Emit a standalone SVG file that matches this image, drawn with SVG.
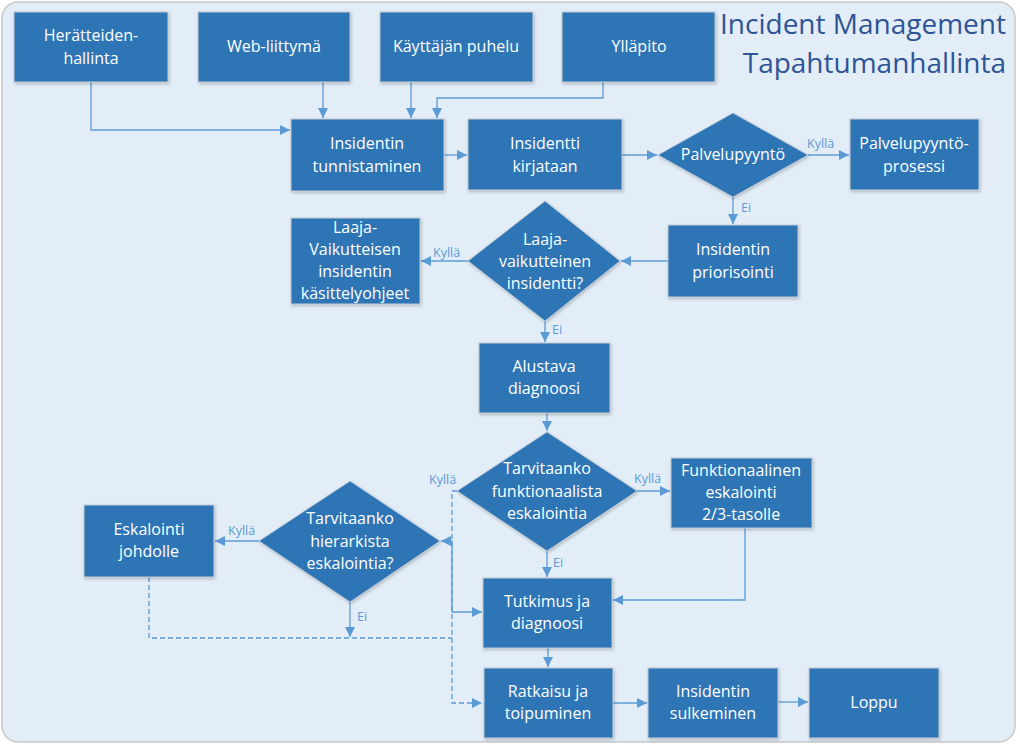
<svg xmlns="http://www.w3.org/2000/svg" width="1020" height="745" viewBox="0 0 1020 745">
<style>
.box{fill:#2e75b6;stroke:#c3cad3;stroke-width:1;filter:url(#sh)}
.dia{fill:#2e75b6;stroke:#c3cad3;stroke-width:0.8;filter:url(#sh)}
.t{font-family:"Open Sans","Liberation Sans",sans-serif;font-size:16px;fill:#ffffff;text-anchor:middle}
.lbl{font-family:"Open Sans","Liberation Sans",sans-serif;font-size:12.5px;fill:#5b9bd5}
.title{font-family:"Open Sans","Liberation Sans",sans-serif;font-size:28px;fill:#2f5496;text-anchor:end}
.c{fill:none;stroke:#5b9bd5;stroke-width:1.3}
.d{stroke-dasharray:5,3}
</style>
<defs>
<marker id="ar" markerUnits="userSpaceOnUse" markerWidth="11" markerHeight="10" refX="10" refY="5" orient="auto-start-reverse" viewBox="0 0 11 10">
<path d="M0,0 L10,5 L0,10 z" fill="#5b9bd5"/>
</marker>
<filter id="sh" x="-10%" y="-10%" width="130%" height="130%">
<feDropShadow dx="1" dy="1.5" stdDeviation="1.5" flood-color="#000" flood-opacity="0.22"/>
</filter>
</defs>
<rect x="2" y="2" width="1013" height="740" rx="16" fill="#e2edf7" stroke="#c8c8c8" stroke-width="1.5"/>
<text class="title" x="1006" y="34">Incident Management</text>
<text class="title" x="1006" y="73">Tapahtumanhallinta</text>

<g id="connectors">
<path class="c" d="M91,82 V130 H290" marker-end="url(#ar)"/>
<path class="c" d="M323,82 V118" marker-end="url(#ar)"/>
<path class="c" d="M411,82 V118" marker-end="url(#ar)"/>
<path class="c" d="M603,82 V98 H437 V118" marker-end="url(#ar)"/>
<path class="c" d="M444,155 H467" marker-end="url(#ar)"/>
<path class="c" d="M622,155 H657" marker-end="url(#ar)"/>
<path class="c" d="M808,155 H849" marker-end="url(#ar)"/>
<path class="c" d="M733,197 V224" marker-end="url(#ar)"/>
<path class="c" d="M668,261 H621" marker-end="url(#ar)"/>
<path class="c" d="M468,261 H421" marker-end="url(#ar)"/>
<path class="c" d="M545,321 V342" marker-end="url(#ar)"/>
<path class="c" d="M547,413 V431" marker-end="url(#ar)"/>
<path class="c" d="M637,491 H670" marker-end="url(#ar)"/>
<path class="c" d="M547,551 V577" marker-end="url(#ar)"/>
<path class="c" d="M745,528 V600 H613" marker-end="url(#ar)"/>
<path class="c d" d="M457,491 H452 V703 H482" marker-end="url(#ar)"/>
<path class="c" d="M441,541 H452 V612 H482" marker-start="url(#ar)" marker-end="url(#ar)"/>
<path class="c d" d="M149,577 V638 H452"/>
<path class="c" d="M350,602 V637" marker-end="url(#ar)"/>
<path class="c" d="M259,541 H215" marker-end="url(#ar)"/>
<path class="c" d="M548,648 V667" marker-end="url(#ar)"/>
<path class="c" d="M613,703 H647" marker-end="url(#ar)"/>
<path class="c" d="M778,702 H808" marker-end="url(#ar)"/>
<text class="lbl" x="807" y="148">Kyllä</text>
<text class="lbl" x="741" y="212">Ei</text>
<text class="lbl" x="433" y="257">Kyllä</text>
<text class="lbl" x="552" y="334">Ei</text>
<text class="lbl" x="634" y="483">Kyllä</text>
<text class="lbl" x="429" y="484">Kyllä</text>
<text class="lbl" x="553" y="567">Ei</text>
<text class="lbl" x="228" y="535">Kyllä</text>
<text class="lbl" x="357" y="621">Ei</text>
</g>

<g id="n-herate"><rect class="box" x="14" y="12" width="154" height="70"/><text class="t" x="91" y="41">Herätteiden-</text><text class="t" x="91" y="64">hallinta</text></g>
<g id="n-web"><rect class="box" x="198" y="12" width="152" height="70"/><text class="t" x="274" y="52">Web-liittymä</text></g>
<g id="n-puhelu"><rect class="box" x="380" y="12" width="153" height="70"/><text class="t" x="456" y="52">Käyttäjän puhelu</text></g>
<g id="n-yllapito"><rect class="box" x="562" y="12" width="153" height="70"/><text class="t" x="639" y="52">Ylläpito</text></g>
<g id="n-tunnistaminen"><rect class="box" x="291" y="119" width="153" height="72"/><text class="t" x="367" y="149">Insidentin</text><text class="t" x="367" y="172">tunnistaminen</text></g>
<g id="n-kirjataan"><rect class="box" x="468" y="119" width="154" height="71"/><text class="t" x="545" y="149">Insidentti</text><text class="t" x="545" y="172">kirjataan</text></g>
<g id="n-palvelupyynto"><polygon class="dia" points="733,113 808,155 733,197 658,155"/><text class="t" x="733" y="160">Palvelupyyntö</text></g>
<g id="n-prosessi"><rect class="box" x="850" y="119" width="129" height="71"/><text class="t" x="914" y="149">Palvelupyyntö-</text><text class="t" x="914" y="172">prosessi</text></g>
<g id="n-priorisointi"><rect class="box" x="668" y="225" width="130" height="72"/><text class="t" x="733" y="255">Insidentin</text><text class="t" x="733" y="278">priorisointi</text></g>
<g id="n-laaja"><polygon class="dia" points="545,201 620,261 545,321 468,261"/><text class="t" x="545" y="245">Laaja-</text><text class="t" x="545" y="267">vaikutteinen</text><text class="t" x="545" y="289">insidentti?</text></g>
<g id="n-laajaohje"><rect class="box" x="291" y="218" width="129" height="86"/><text class="t" x="355" y="233">Laaja-</text><text class="t" x="355" y="255">Vaikutteisen</text><text class="t" x="355" y="277">insidentin</text><text class="t" x="355" y="299">käsittelyohjeet</text></g>
<g id="n-alustava"><rect class="box" x="479" y="343" width="131" height="70"/><text class="t" x="544" y="372">Alustava</text><text class="t" x="544" y="394">diagnoosi</text></g>
<g id="n-funk"><polygon class="dia" points="547,432 637,491 547,551 457,491"/><text class="t" x="547" y="474">Tarvitaanko</text><text class="t" x="547" y="497">funktionaalista</text><text class="t" x="547" y="519">eskalointia</text></g>
<g id="n-funkesk"><rect class="box" x="671" y="458" width="141" height="70"/><text class="t" x="741" y="476">Funktionaalinen</text><text class="t" x="741" y="498">eskalointi</text><text class="t" x="741" y="520">2/3-tasolle</text></g>
<g id="n-hier"><polygon class="dia" points="350,481 440,541 350,602 259,541"/><text class="t" x="350" y="524">Tarvitaanko</text><text class="t" x="350" y="547">hierarkista</text><text class="t" x="350" y="569">eskalointia?</text></g>
<g id="n-johdolle"><rect class="box" x="84" y="505" width="130" height="72"/><text class="t" x="149" y="535">Eskalointi</text><text class="t" x="149" y="557">johdolle</text></g>
<g id="n-tutkimus"><rect class="box" x="483" y="578" width="129" height="70"/><text class="t" x="547" y="607">Tutkimus ja</text><text class="t" x="547" y="629">diagnoosi</text></g>
<g id="n-ratkaisu"><rect class="box" x="484" y="668" width="129" height="70"/><text class="t" x="548" y="697">Ratkaisu ja</text><text class="t" x="548" y="719">toipuminen</text></g>
<g id="n-sulkeminen"><rect class="box" x="648" y="668" width="130" height="70"/><text class="t" x="713" y="697">Insidentin</text><text class="t" x="713" y="719">sulkeminen</text></g>
<g id="n-loppu"><rect class="box" x="809" y="668" width="130" height="70"/><text class="t" x="874" y="708">Loppu</text></g>
</svg>
